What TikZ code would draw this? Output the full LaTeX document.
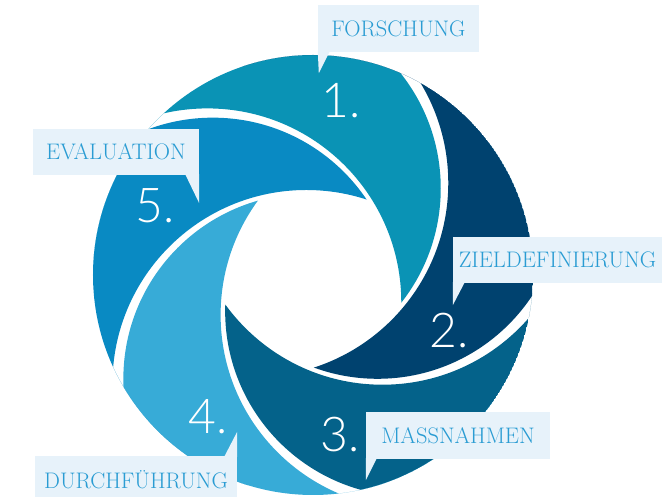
\documentclass[tikz,border=0pt]{standalone}
\usepackage{fontspec}
\IfFontExistsTF{Lato Light}{\newfontfamily\numfont{Lato Light}}{\newfontfamily\numfont{Lato}}
\definecolor{bladeA}{HTML}{0A93B5}
\definecolor{bladeB}{HTML}{00426F}
\definecolor{bladeC}{HTML}{04628A}
\definecolor{bladeD}{HTML}{37ABD7}
\definecolor{bladeE}{HTML}{098AC3}
\definecolor{boxfill}{HTML}{E7F2FA}
\definecolor{labeltext}{HTML}{2A9CD3}
\begin{document}
\begin{tikzpicture}[x=1pt,y=1pt,
  labelbox/.style={fill=boxfill, inner sep=0pt, minimum height=47, text=labeltext,
    font=\fontsize{22.5}{26}\selectfont, text height=15.3pt, text depth=0pt},
  numlabel/.style={text=white, inner sep=0pt, anchor=base west,
    font=\numfont\fontsize{48}{50}\selectfont},
  tailfill/.style={fill=boxfill}]
\useasboundingbox (-313,-222) rectangle (349,275);
% blades
\foreach \k/\col in {0/bladeA,1/bladeB,2/bladeC,3/bladeD,4/bladeE}{
  \begin{scope}
    \clip (0,0) circle (220);
    \clip ({123.6-72*\k}:104) circle (185.3);
    \fill[\col, even odd rule] (0,0) circle (220) ({194.5-72*\k}:109.1) circle (193.9);
  \end{scope}
}
% numbers
\node[numlabel] (n1) at (8,157) {1.};
\node[numlabel] (n2) at (116,-73) {2.};
\node[numlabel] (n3) at (7,-177) {3.};
\node[numlabel] (n4) at (-125,-159) {4.};
\node[numlabel] (n5) at (-178,52) {5.};
% labels
\node[labelbox, minimum width=161] (forschung) at (85.5,246.5) {FORSCHUNG};
\fill[tailfill] ([yshift=1]forschung.south west) -- ++(12,0) -- ++(-11,-22) -- cycle;
\node[labelbox, minimum width=166, minimum height=46] (evaluation) at (-197,123) {EVALUATION};
\fill[tailfill] ([yshift=1]evaluation.south east) -- ++(-14,0) -- ++(14,-29) -- cycle;
\node[labelbox, minimum width=209, minimum height=46] (ziel) at (244.5,15) {ZIELDEFINIERUNG};
\fill[tailfill] ([yshift=1]ziel.south west) -- ++(12,0) -- ++(-12,-23) -- cycle;
\node[labelbox, minimum width=184] (mass) at (145,-160.5) {MASSNAHMEN};
\fill[tailfill] ([yshift=1]mass.south west) -- ++(11,0) -- ++(-11,-22) -- cycle;
\node[labelbox, minimum width=202, minimum height=50] (durch) at (-177,-206) {DURCHFÜHRUNG};
\fill[tailfill] ([yshift=-1]durch.north east) -- ++(-13,0) -- ++(13,25) -- cycle;
\end{tikzpicture}
\end{document}
